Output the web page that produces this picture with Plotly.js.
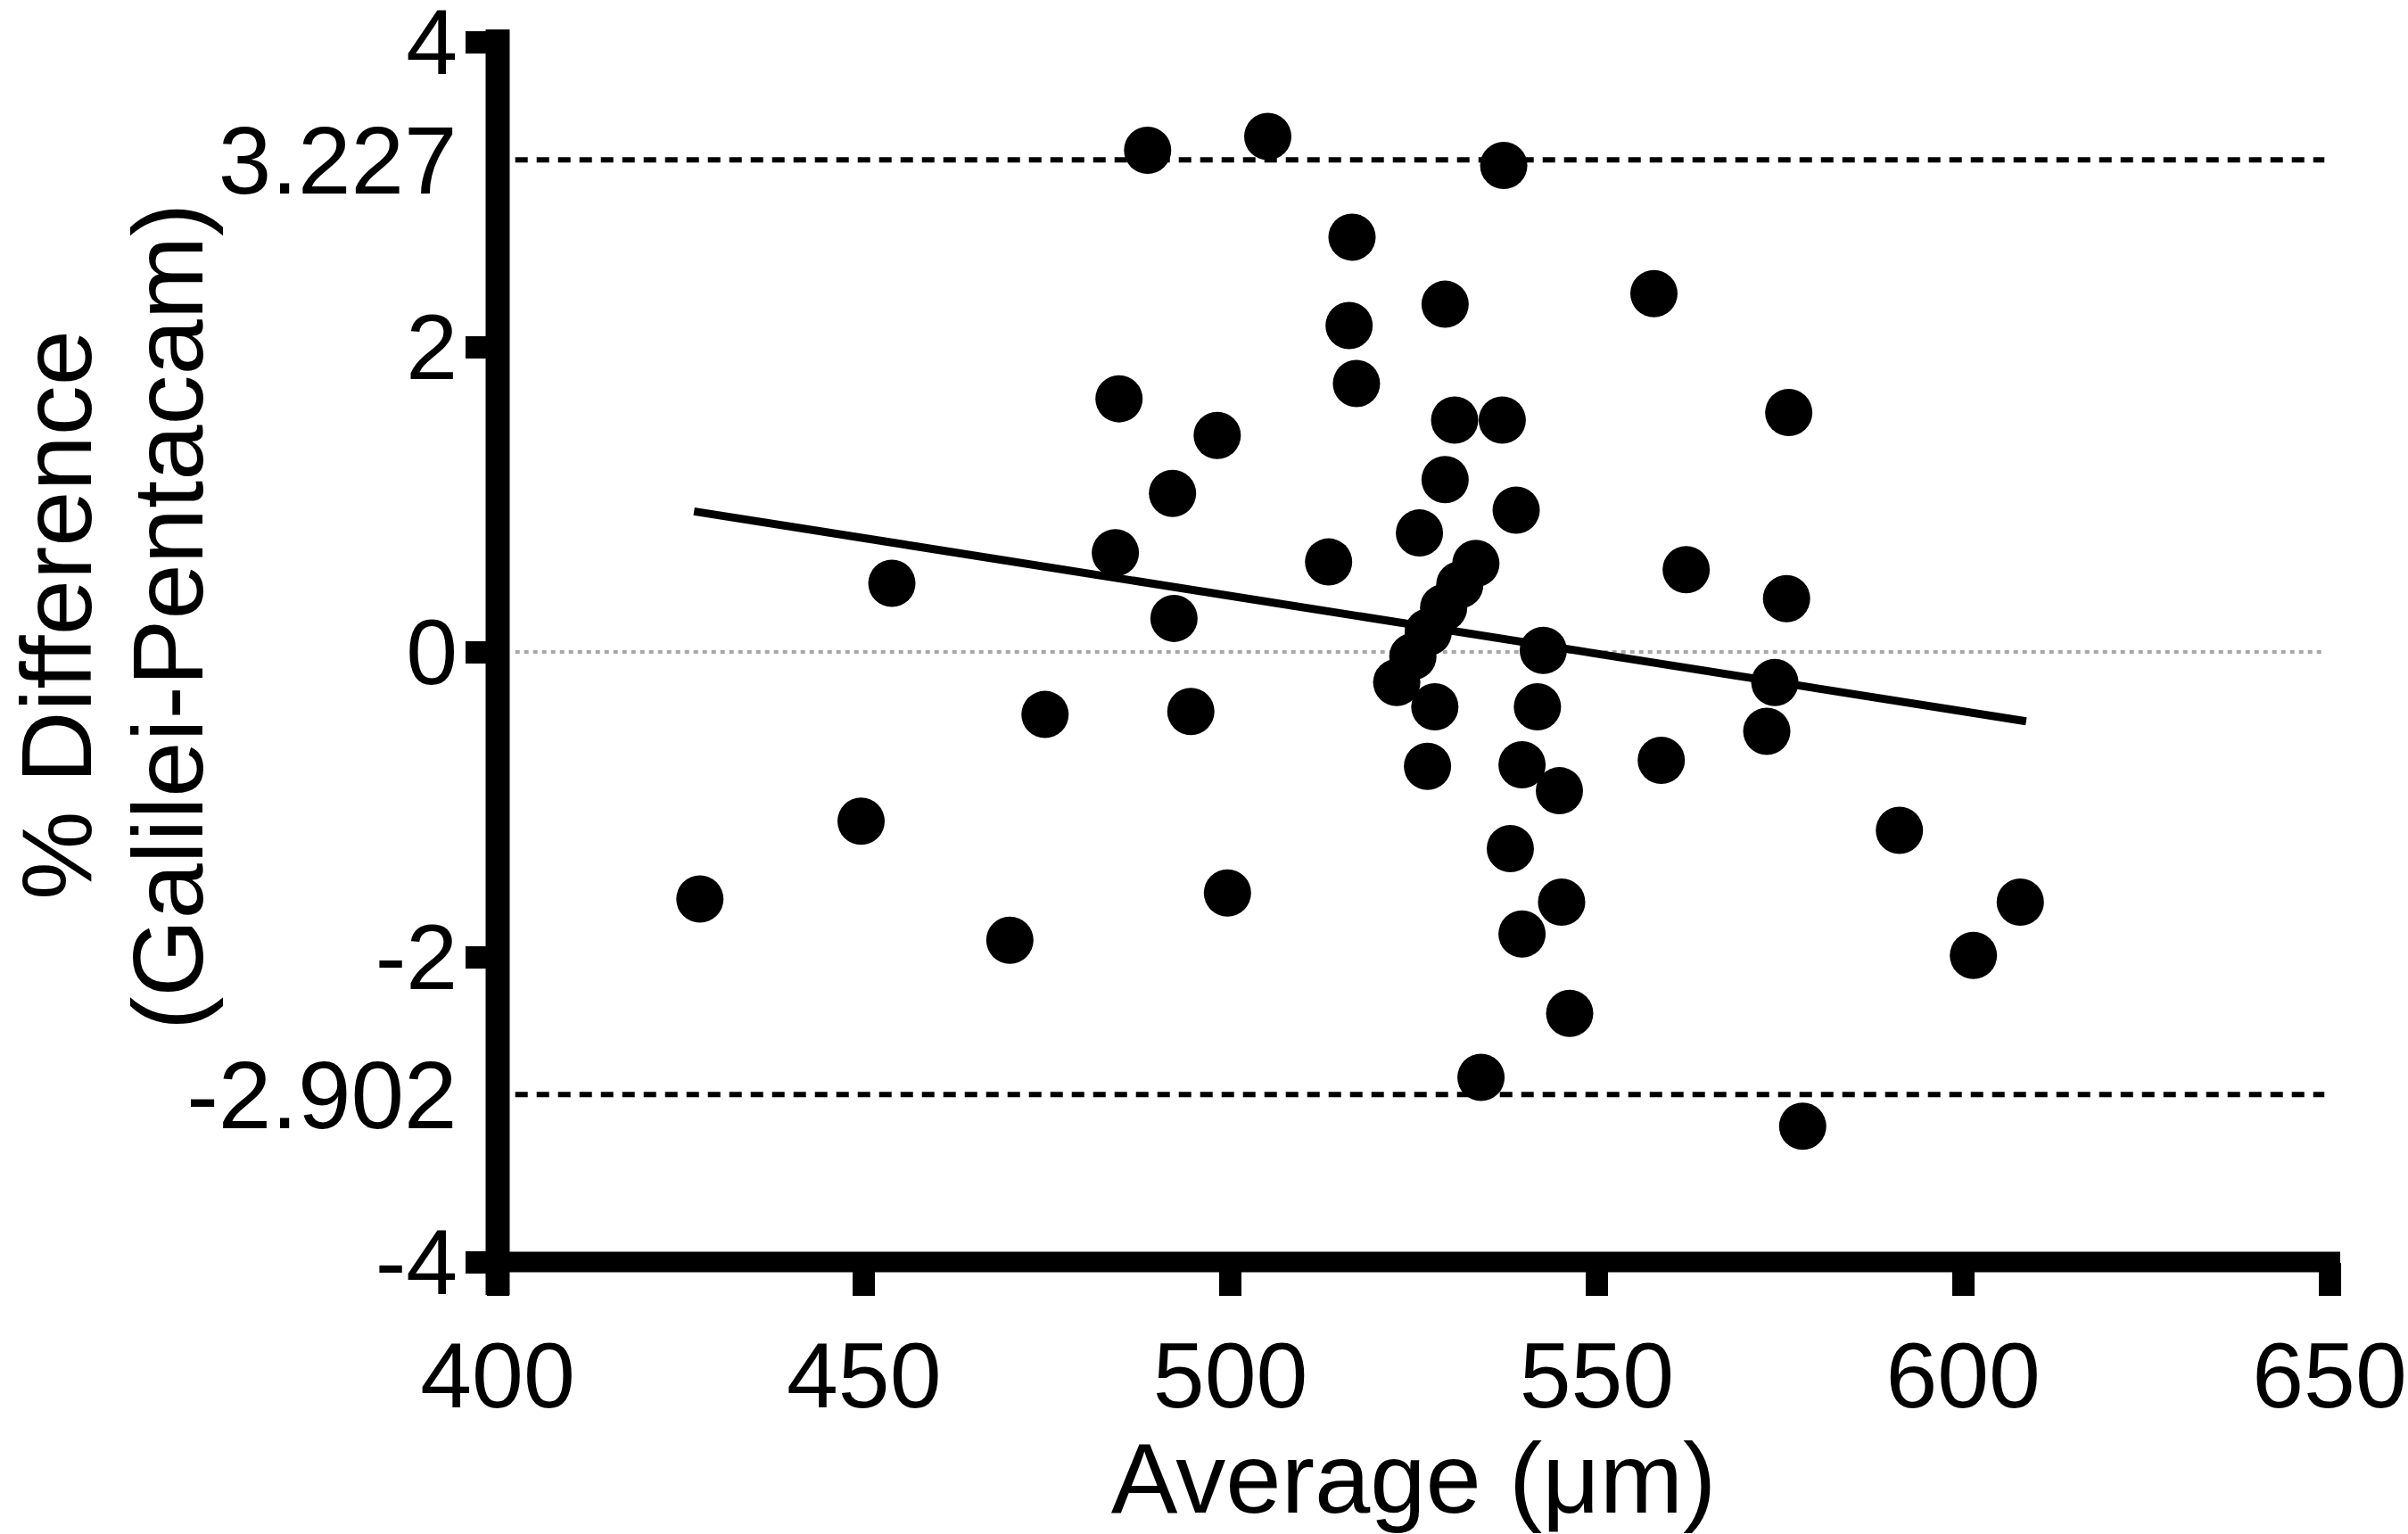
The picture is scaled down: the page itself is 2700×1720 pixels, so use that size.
<!DOCTYPE html>
<html>
<head>
<meta charset="utf-8">
<script src="https://cdn.plot.ly/plotly-3.0.1.min.js"></script>
<style>html,body{margin:0;padding:0;background:#fff;}#chart{width:2700px;height:1720px;}</style>
</head>
<body>
<div id="chart"></div>
<script>
// Bland-Altman style data: average thickness (µm) vs % difference (Galilei - Pentacam)
const avgX = [427.6, 449.6, 453.8, 469.9, 474.7, 484.8, 484.3, 488.7, 492.1, 492.3,
              494.6, 498.2, 499.6, 505.1, 513.4, 516.6, 516.2, 517.2,
              522.7, 524.9, 527.0, 529.1, 531.3, 533.5,
              525.8, 526.9, 527.9, 529.3, 529.3, 530.6, 537.3, 537.1, 534.2, 539.0,
              538.2, 539.8, 539.8, 541.9, 542.7, 545.2, 544.9, 546.3, 557.8, 558.8,
              562.2, 573.2, 574.3, 575.9, 576.2, 578.1, 591.3, 601.4, 607.8];
const pctDiff = [-1.62, -1.11, 0.45, -1.89, -0.41, 1.66, 0.65, 3.29, 1.04, 0.22,
                 -0.39, 1.42, -1.58, 3.38, 0.59, 2.72, 2.14, 1.76,
                 -0.20, -0.03, 0.13, 0.29, 0.44, 0.58,
                 0.78, -0.75, -0.36, 2.28, 1.13, 1.52, 3.19, 1.52, -2.79, 0.93,
                 -1.29, -0.74, -1.85, -0.36, 0.01, -1.64, -0.91, -2.37, 2.35, -0.71,
                 0.54, -0.52, -0.20, 0.35, 1.57, -3.11, -1.17, -1.99, -1.64];

// fitted regression line (endpoints)
const fitX = [426.8, 608.6];
const fitY = [0.922, -0.455];

// limits of agreement and zero reference
const refX = [402.4, 649.3];
const upperLoA = [3.227, 3.227];
const lowerLoA = [-2.902, -2.902];
const zeroRef = [0, 0];

// axis ticks
const xTickVals = [400, 450, 500, 550, 600, 650];
const xTickText = ['400', '450', '500', '550', '600', '650'];
const yTickVals = [-4, -2, 0, 2, 4];
const yTickText = ['-4', '-2', '0', '2', '4'];
const loaTickVals = [3.227, -2.902];
const loaTickText = ['3.227', '-2.902'];

const xTitle = 'Average (μm)';
const yTitleLines = ['% Difference', '(Galilei-Pentacam)'];

const FONT = 'Liberation Sans, Arial, Helvetica, sans-serif';
const TICKFONT = {family: FONT, size: 104, color: '#000'};

const traces = [
  {x: refX, y: zeroRef, mode: 'lines', line: {color: '#a8a8a8', width: 4, dash: '5px,5px'}, hoverinfo: 'skip', showlegend: false},
  {x: refX, y: upperLoA, yaxis: 'y2', mode: 'lines', line: {color: '#000', width: 6, dash: '14px,10px'}, hoverinfo: 'skip', showlegend: false},
  {x: refX, y: lowerLoA, yaxis: 'y2', mode: 'lines', line: {color: '#000', width: 6, dash: '14px,10px'}, hoverinfo: 'skip', showlegend: false},
  {x: avgX, y: pctDiff, mode: 'markers', marker: {color: '#000', size: 53, line: {width: 0}}, showlegend: false},
  {x: fitX, y: fitY, mode: 'lines', line: {color: '#000', width: 9}, hoverinfo: 'skip', showlegend: false}
];

const L = 558, R = 88, T = 47, B = 305;
const W = 2700, H = 1720;
const pw = W - L - R, ph = H - T - B;
function px2paperX(px) { return (px - L) / pw; }
function px2paperY(py) { return (H - B - py) / ph; }

const layout = {
  width: W, height: H,
  margin: {l: L, r: R, t: T, b: B, pad: 0},
  paper_bgcolor: '#fff', plot_bgcolor: '#fff',
  font: {family: FONT, color: '#000', size: 104},
  showlegend: false,
  xaxis: {
    range: [400, 650], showgrid: false, zeroline: false, showline: false,
    tickmode: 'array', tickvals: xTickVals, ticktext: xTickText,
    ticks: 'outside', ticklen: 37, tickwidth: 25, tickcolor: '#000',
    tickfont: TICKFONT, ticklabeloverflow: 'allow',
    title: {text: xTitle, font: {family: FONT, size: 112, color: '#000'}, standoff: 30}
  },
  yaxis: {
    range: [-4, 4], showgrid: false, zeroline: false, showline: false,
    tickmode: 'array', tickvals: yTickVals, ticktext: yTickText,
    ticks: 'outside', ticklen: 35, tickwidth: 25, tickcolor: '#000',
    tickfont: TICKFONT, ticklabeloverflow: 'allow', ticklabelstandoff: -12
  },
  yaxis2: {
    range: [-4, 4], overlaying: 'y', side: 'left', anchor: 'x',
    showgrid: false, zeroline: false, showline: false,
    tickmode: 'array', tickvals: loaTickVals, ticktext: loaTickText,
    ticks: 'outside', ticklen: 35, tickwidth: 1, tickcolor: 'rgba(0,0,0,0)',
    tickfont: {family: FONT, size: 107, color: '#000'}, ticklabeloverflow: 'allow', ticklabelstandoff: -12
  },
  shapes: [
    {type: 'line', xref: 'paper', yref: 'paper', x0: 0, x1: 0,
     y0: px2paperY(1452), y1: px2paperY(33), line: {color: '#000', width: 27}},
    {type: 'line', xref: 'paper', yref: 'paper', y0: 0, y1: 0,
     x0: px2paperX(545), x1: px2paperX(2624), line: {color: '#000', width: 23}}
  ],
  annotations: [
    {text: yTitleLines[0], xref: 'paper', yref: 'paper', x: px2paperX(63), y: px2paperY(690),
     xanchor: 'center', yanchor: 'middle', textangle: -90, showarrow: false,
     font: {family: FONT, size: 112, color: '#000'}},
    {text: yTitleLines[1], xref: 'paper', yref: 'paper', x: px2paperX(188), y: px2paperY(692),
     xanchor: 'center', yanchor: 'middle', textangle: -90, showarrow: false,
     font: {family: FONT, size: 112, color: '#000'}}
  ]
};

Plotly.newPlot('chart', traces, layout, {displayModeBar: false, staticPlot: true});
</script>
</body>
</html>
